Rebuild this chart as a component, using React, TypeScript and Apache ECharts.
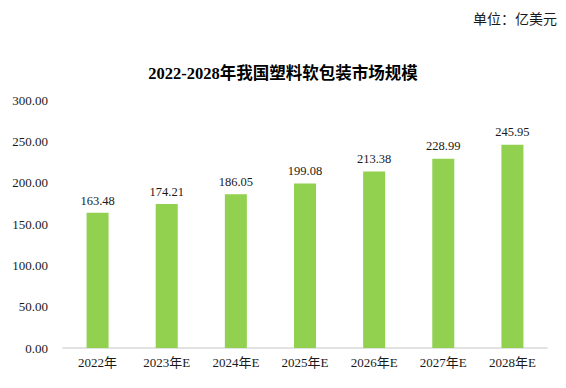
import React, { useEffect, useRef } from "react";
import * as echarts from "echarts";

const categories = ["2022年", "2023年E", "2024年E", "2025年E", "2026年E", "2027年E", "2028年E"];
const values = [163.48, 174.21, 186.05, 199.08, 213.38, 228.99, 245.95];
const titleText = "2022-2028年我国塑料软包装市场规模";
const unitText = "单位：亿美元";

const FONT = "'Liberation Serif', 'Times New Roman', 'Noto Sans CJK SC', serif";

export default function App() {
  const ref = useRef<HTMLDivElement>(null);
  useEffect(() => {
    const chart = echarts.init(ref.current!, null, { renderer: "svg" });
    chart.setOption({
      animation: false,
      backgroundColor: "#ffffff",
      textStyle: { fontFamily: FONT },
      title: [
        {
          text: titleText,
          left: "center",
          top: 60,
          textStyle: { fontFamily: FONT, fontSize: 16.5, fontWeight: "bold", color: "#000000" },
        },
        {
          text: unitText,
          right: 4,
          top: 7,
          textStyle: { fontFamily: FONT, fontSize: 14, fontWeight: "normal", color: "#1a1a1a" },
        },
      ],
      grid: { left: 63, right: 19, top: 100, bottom: 40 },
      xAxis: {
        type: "category",
        data: categories,
        axisLine: { lineStyle: { color: "#d9d9d9", width: 1.5 } },
        axisTick: { show: false },
        axisLabel: { color: "#1a1a1a", fontSize: 13, margin: 8, fontFamily: FONT },
      },
      yAxis: {
        type: "value",
        min: 0,
        max: 300,
        interval: 50,
        axisLine: { show: false },
        axisTick: { show: false },
        splitLine: { show: false },
        axisLabel: {
          color: "#1a1a1a",
          fontSize: 13,
          margin: 15,
          fontFamily: FONT,
          formatter: (v: number) => v.toFixed(2),
        },
      },
      series: [
        {
          type: "bar",
          data: values,
          barWidth: 22,
          itemStyle: { color: "#92D050" },
          label: {
            show: true,
            position: "top",
            distance: 6,
            color: "#1a1a1a",
            fontSize: 12.5,
            fontFamily: FONT,
            formatter: (p: any) => p.value.toFixed(2),
          },
        },
      ],
    });
    return () => chart.dispose();
  }, []);
  return (
    <div
      ref={ref}
      style={{ position: "fixed", left: 0, top: 0, width: 566, height: 388, background: "#fff" }}
    />
  );
}
